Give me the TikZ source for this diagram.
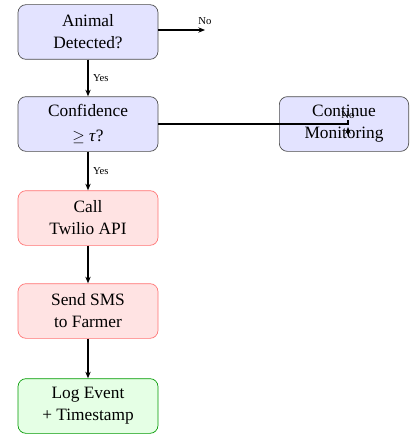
\documentclass[tikz,border=0pt]{standalone}
\usepackage{fontspec}
\setmainfont{Liberation Serif}
\usetikzlibrary{positioning, arrows.meta}

\begin{document}
\begin{tikzpicture}[
          x=0.75pt, y=-0.75pt,
          box/.style={draw, rounded corners=6pt, minimum width=105pt, minimum height=41pt,
            align=center, font=\fontsize{13}{16.5}\selectfont, line width=0.5pt},
          check/.style={box, fill=blue!11, draw=black!70},
          act/.style={box, fill=red!11, draw=red!55},
          done/.style={box, fill=green!10, draw=green!60!black},
          arrow/.style={-{Stealth[length=5pt,width=4pt]}, line width=1pt},
          lbl/.style={font=\fontsize{8}{9}\selectfont}
        ]
        \useasboundingbox (0,0) rectangle (411,435);
        \node[check] (animal) at (88,32) {Animal\\Detected?};
        \node[check] (conf) at (88,124) {Confidence\\[2pt]$\geq$ \textit{τ}?};
        \node[check, minimum width=97pt] (cont) at (344,124) {Continue\\Monitoring};
        \node[act] (twilio) at (88,218) {Call\\Twilio API};
        \node[act] (sms) at (88,311) {Send SMS\\to Farmer};
        \node[done] (log) at (88,406) {Log Event\\+ Timestamp};
        \coordinate (noend) at (205,30);
        \coordinate (notick) at (348,120);
        \coordinate (nobase) at (348,134);
        \coordinate (notip) at (348,127);

        \draw[arrow] (animal.south) -- node[lbl, right] {Yes} (conf.north);
        \draw[arrow] (animal.east |- noend) -- (noend) node[lbl, above] {No};
        \draw[arrow] (conf.south) -- node[lbl, right] {Yes} (twilio.north);
        \draw[line width=1pt] (conf.east) -| node[lbl, above, pos=0.5] {No} (notick);
        \draw[arrow] (nobase) -- (notip);
        \draw[arrow] (twilio) -- (sms);
        \draw[arrow] (sms) -- (log);
        \end{tikzpicture}
\end{document}
